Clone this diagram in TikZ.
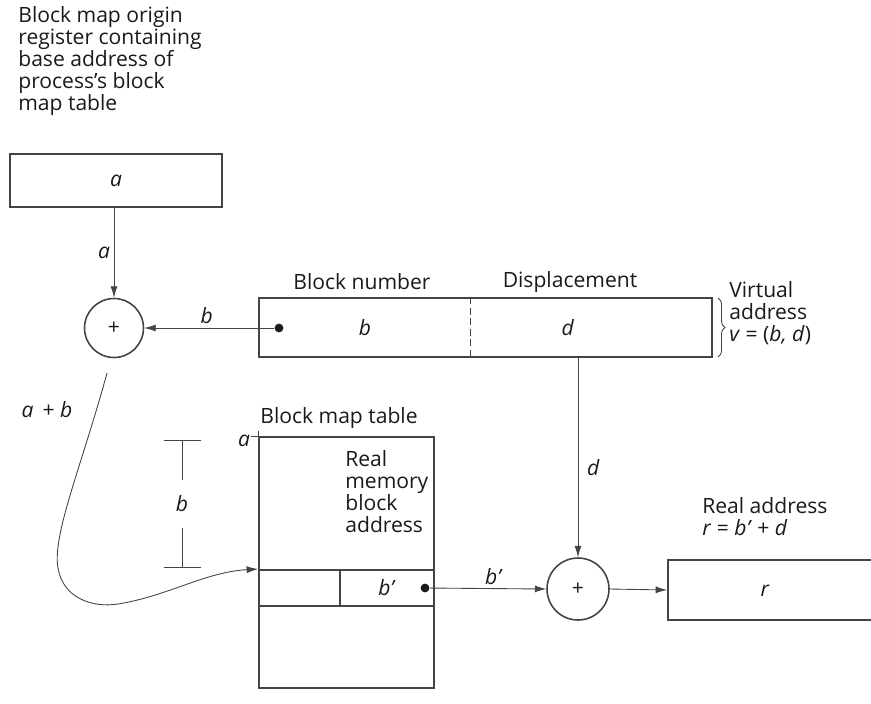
\documentclass[tikz,border=0pt]{standalone}
\usepackage{fontspec}
\setmainfont{Open Sans}
\usepackage{tikz}
\usetikzlibrary{positioning, arrows.meta, calc, decorations.pathreplacing}
\definecolor{Scan_Ink}{HTML}{1A1A1A}
\definecolor{Scan_Line}{HTML}{444444}

\begin{document}
\begin{tikzpicture}[
  x=0.02cm, y=-0.02cm,
  every node/.style={font=\fontsize{12}{12.6}\selectfont, text=Scan_Ink},
  regbox/.style={draw=Scan_Line, line width=1.1pt, minimum width=#1, minimum height=1.06cm, inner sep=0pt},
  regbox/.default={4.24cm},
  adder/.style={draw=Scan_Line, line width=0.9pt, circle, minimum size=#1, inner sep=0pt},
  adder/.default={1.18cm},
  lbl/.style={inner sep=1pt},
  txt/.style={align=left, inner sep=0pt},
  dot/.style={circle, fill=Scan_Ink, inner sep=0pt, minimum size=5pt},
  arr/.style={-{Latex[length=6.5pt, width=4pt]}, line width=0.5pt, Scan_Line},
  thin/.style={line width=0.5pt, Scan_Line},
]
  \useasboundingbox (0,0) rectangle (871,703);

  % Origin register
  \node[txt, anchor=north west] (orgtxt) at (18,6) {Block map origin\\register containing\\base address of\\process’s block\\map table};
  \node[regbox] (regA) at (116,180.5) {\textit{a}};

  % First adder
  \node[adder] (sum1) at (114,328) {+};
  \draw[arr] (regA.south -| sum1) -- (sum1.north) node[lbl, midway, left=1pt] {\textit{a}};

  % Virtual address
  \node[regbox=9.06cm, minimum height=1.18cm] (vaddr) at (485.5,327.5) {};
  \coordinate (vsplitT) at ($(vaddr.north west)!0.466!(vaddr.north east)$);
  \coordinate (vsplitB) at ($(vaddr.south west)!0.466!(vaddr.south east)$);
  \draw[thin, dashed, dash pattern=on 4pt off 2pt] (vsplitT) -- (vsplitB);
  \node[dot] (bdot) at (279,328) {};
  \node (vb) at (365,328) {\textit{b}};
  \node (vd) at (568,328) {\textit{d}};
  \node (blknum) at (362,282) {Block number};
  \node (displ) at (570,282) {Displacement};
  \draw[thin, decorate, decoration={brace, amplitude=4pt}] (718,298) -- (718,357);
  \node[txt, anchor=west] (vtxt) at (729,313) {Virtual\\address\\\textit{v} = (\textit{b, d})};

  % b to first adder
  \draw[arr] (bdot) -- (sum1.east) node[lbl, pos=0.52, above=1pt] {\textit{b}};
  \node (abtxt) at (47,410) {\textit{a}\, + \textit{b}};

  % Block map table
  \node[regbox=3.5cm, minimum height=5.02cm] (bmt) at (346.5,562.5) {};
  \node[anchor=west, inner sep=0pt] (bmtlbl) at (260,418) {Block map table};
  \draw[thin] (bmt.north west) -- ++(-7,0) (bmt.north west) -- ++(0,-5);
  \node (tbla) at (244,441) {\textit{a}};
  \node[txt, anchor=north west] (rmtxt) at (345,450) {Real\\memory\\block\\address};
  \node[regbox=1.62cm, minimum height=0.72cm] (entry) at (299.5,588) {};
  \node[regbox=1.88cm, minimum height=0.72cm] (bcell) at (387,588) {\textit{b’}};
  \node[dot] (bpdot) at (425,588) {};

  % b offset dimension
  \coordinate (dimtop) at (182,440);
  \coordinate (dimbot) at (182,567);
  \node[inner ysep=9pt] (dimlbl) at (182,504) {\textit{b}};
  \draw[thin] (dimtop) -- (dimlbl) (dimlbl) -- (dimbot);
  \draw[thin] ([xshift=-10]dimtop) -- ([xshift=11]dimtop);
  \draw[thin] ([xshift=-10]dimbot) -- ([xshift=11]dimbot);

  % a + b into the table
  \coordinate (abstart) at (107,373);
  \draw[arr] (abstart) .. controls (82,465) and (52,535) .. (58,568)
    .. controls (63,598) and (92,608) .. (118,604)
    .. controls (168,596) and (205,572) .. (entry.north west);

  % Second adder
  \node[adder=1.24cm] (sum2) at (578,589) {+};
  \draw[arr] (vaddr.south -| sum2) -- (sum2.north) node[lbl, pos=0.55, right=4pt] {\textit{d}};
  \draw[arr] (bpdot) -- (sum2.west) node[lbl, pos=0.55, above=1pt] {\textit{b’}};

  % Real address
  \node[regbox=4.24cm, minimum height=1.2cm] (raddr) at (774,590) {};
  \node (rr) at (765,591) {\textit{r}};
  \node[txt, anchor=west] (rtxt) at (702,517) {Real address\\\textit{r} = \textit{b’} + \textit{d}};
  \draw[arr] (sum2.east) -- (raddr.west);
\end{tikzpicture}
\end{document}
